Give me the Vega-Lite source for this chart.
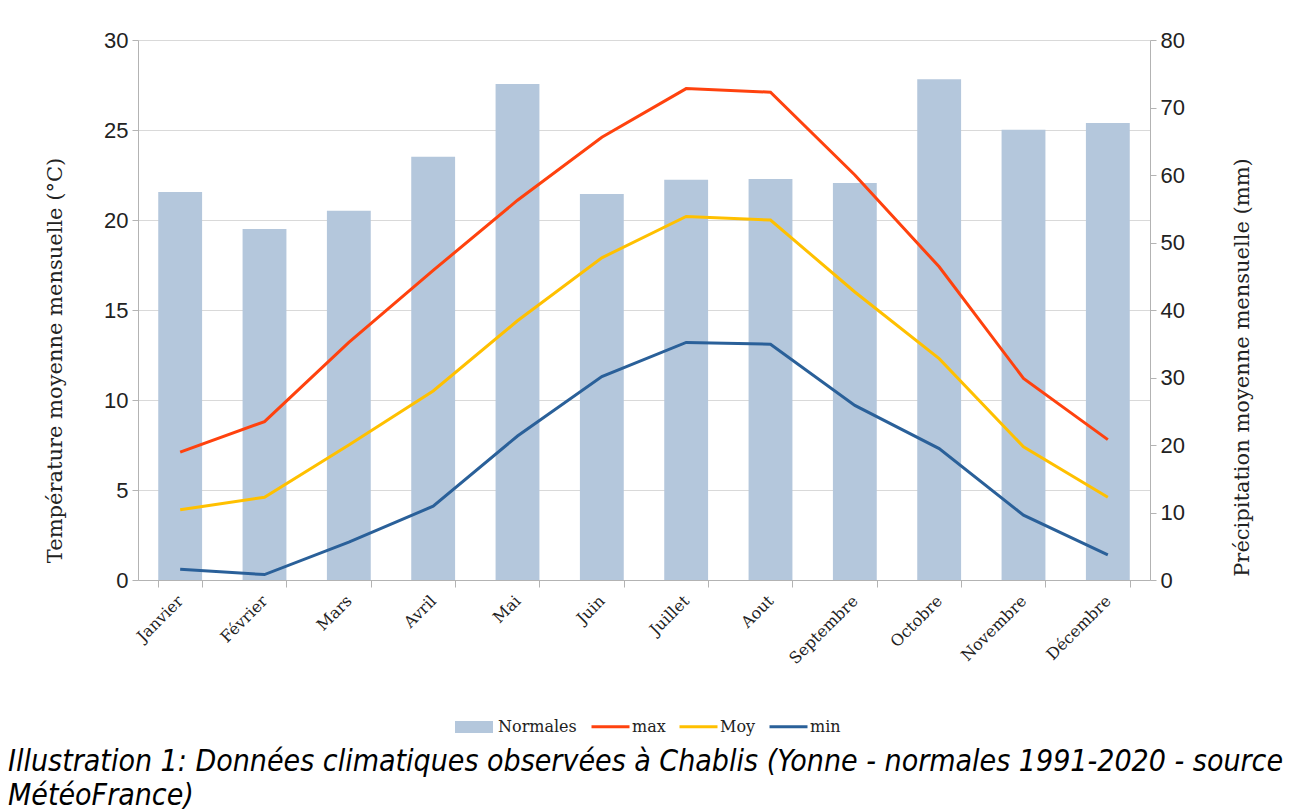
{
  "$schema": "https://vega.github.io/schema/vega-lite/v6.json",
  "width": 1012,
  "height": 540,
  "autosize": {"type": "none"},
  "padding": {"left": 138, "top": 40, "right": 140, "bottom": 232},
  "background": "white",
  "config": {
    "view": {"stroke": null},
    "axis": {
      "domainColor": "#b3b3b3",
      "tickColor": "#b3b3b3",
      "tickSize": 6,
      "labelColor": "#222222",
      "titleColor": "#222222",
      "labelFont": "Liberation Sans",
      "titleFont": "DejaVu Serif",
      "titleFontWeight": "normal",
      "gridColor": "#d9d9d9"
    },
    "legend": {
      "title": null,
      "orient": "none",
      "direction": "horizontal",
      "padding": 0,
      "symbolSize": 1444,
      "labelFont": "DejaVu Serif",
      "labelFontSize": 16,
      "labelColor": "#222222",
      "columnPadding": 7
    }
  },
  "datasets": {
    "pluie": [
      {"mois": "Janvier", "precip": 57.5},
      {"mois": "Février", "precip": 52.0},
      {"mois": "Mars", "precip": 54.7},
      {"mois": "Avril", "precip": 62.7},
      {"mois": "Mai", "precip": 73.5},
      {"mois": "Juin", "precip": 57.2},
      {"mois": "Juillet", "precip": 59.3},
      {"mois": "Aout", "precip": 59.4},
      {"mois": "Septembre", "precip": 58.8},
      {"mois": "Octobre", "precip": 74.2},
      {"mois": "Novembre", "precip": 66.7},
      {"mois": "Décembre", "precip": 67.7}
    ],
    "temp": [
      {"mois": "Janvier", "serie": "max", "t": 7.1},
      {"mois": "Février", "serie": "max", "t": 8.8},
      {"mois": "Mars", "serie": "max", "t": 13.2},
      {"mois": "Avril", "serie": "max", "t": 17.2},
      {"mois": "Mai", "serie": "max", "t": 21.1},
      {"mois": "Juin", "serie": "max", "t": 24.6},
      {"mois": "Juillet", "serie": "max", "t": 27.3},
      {"mois": "Aout", "serie": "max", "t": 27.1},
      {"mois": "Septembre", "serie": "max", "t": 22.5},
      {"mois": "Octobre", "serie": "max", "t": 17.4},
      {"mois": "Novembre", "serie": "max", "t": 11.2},
      {"mois": "Décembre", "serie": "max", "t": 7.8},
      {"mois": "Janvier", "serie": "Moy", "t": 3.9},
      {"mois": "Février", "serie": "Moy", "t": 4.6},
      {"mois": "Mars", "serie": "Moy", "t": 7.5},
      {"mois": "Avril", "serie": "Moy", "t": 10.5},
      {"mois": "Mai", "serie": "Moy", "t": 14.4},
      {"mois": "Juin", "serie": "Moy", "t": 17.9},
      {"mois": "Juillet", "serie": "Moy", "t": 20.2},
      {"mois": "Aout", "serie": "Moy", "t": 20.0},
      {"mois": "Septembre", "serie": "Moy", "t": 16.0},
      {"mois": "Octobre", "serie": "Moy", "t": 12.3},
      {"mois": "Novembre", "serie": "Moy", "t": 7.4},
      {"mois": "Décembre", "serie": "Moy", "t": 4.6},
      {"mois": "Janvier", "serie": "min", "t": 0.6},
      {"mois": "Février", "serie": "min", "t": 0.3},
      {"mois": "Mars", "serie": "min", "t": 2.1},
      {"mois": "Avril", "serie": "min", "t": 4.1},
      {"mois": "Mai", "serie": "min", "t": 8.0},
      {"mois": "Juin", "serie": "min", "t": 11.3},
      {"mois": "Juillet", "serie": "min", "t": 13.2},
      {"mois": "Aout", "serie": "min", "t": 13.1},
      {"mois": "Septembre", "serie": "min", "t": 9.7},
      {"mois": "Octobre", "serie": "min", "t": 7.3},
      {"mois": "Novembre", "serie": "min", "t": 3.6},
      {"mois": "Décembre", "serie": "min", "t": 1.4}
    ]
  },
  "title": {
    "text": ["Illustration 1: Données climatiques observées à Chablis (Yonne - normales 1991-2020 - source", "MétéoFrance)"],
    "orient": "bottom",
    "anchor": "start",
    "frame": "group",
    "dx": -130,
    "offset": 12,
    "font": "DejaVu Sans Condensed",
    "fontStyle": "italic",
    "fontWeight": "normal",
    "fontSize": 30,
    "lineHeight": 34,
    "color": "#000000",
    "baseline": "top"
  },
  "encoding": {
    "x": {
      "field": "mois",
      "type": "nominal",
      "sort": ["Janvier", "Février", "Mars", "Avril", "Mai", "Juin", "Juillet", "Aout", "Septembre", "Octobre", "Novembre", "Décembre"],
      "scale": {"paddingInner": 0.48, "paddingOuter": 0.24},
      "axis": {
        "title": null,
        "labelAngle": -45,
        "labelAlign": "right",
        "labelBaseline": "middle",
        "labelFont": "DejaVu Serif",
        "labelFontSize": 16,
        "labelPadding": 11,
        "tickBand": "extent",
        "tickSize": 7
      }
    }
  },
  "layer": [
    {
      "data": {"name": "pluie"},
      "mark": {"type": "bar"},
      "encoding": {
        "y": {
          "field": "precip",
          "type": "quantitative",
          "scale": {"domain": [0, 80]},
          "axis": {
            "orient": "right",
            "title": "Précipitation moyenne mensuelle (mm)",
            "titleAngle": -90,
            "titleBaseline": "middle",
            "titleX": 92,
            "titleY": 327,
            "titleFontSize": 21,
            "values": [0, 10, 20, 30, 40, 50, 60, 70, 80],
            "grid": false,
            "labelFontSize": 22,
            "labelPadding": 4
          }
        },
        "fill": {
          "datum": "Normales",
          "scale": {"domain": ["Normales"], "range": ["#b4c7dc"]},
          "legend": {
            "legendX": 317,
            "legendY": 668,
            "labelOffset": 5,
            "symbolType": "M-1,-0.32H1V0.32H-1Z",
            "symbolStrokeWidth": 0,
            "symbolOpacity": 1
          }
        }
      }
    },
    {
      "data": {"name": "temp"},
      "mark": {"type": "line", "strokeWidth": 3},
      "encoding": {
        "y": {
          "field": "t",
          "type": "quantitative",
          "scale": {"domain": [0, 30]},
          "axis": {
            "orient": "left",
            "title": "Température moyenne mensuelle (°C)",
            "titleAngle": -90,
            "titleBaseline": "middle",
            "titleX": -83,
            "titleY": 320,
            "titleFontSize": 21,
            "values": [0, 5, 10, 15, 20, 25, 30],
            "grid": true,
            "labelFontSize": 22,
            "labelPadding": 4
          }
        },
        "stroke": {
          "field": "serie",
          "type": "nominal",
          "scale": {"domain": ["max", "Moy", "min"], "range": ["#ff420e", "#ffc000", "#2a6099"]},
          "legend": {
            "legendX": 452,
            "legendY": 666,
            "labelOffset": 1,
            "symbolType": "stroke",
            "symbolStrokeWidth": 3
          }
        }
      }
    }
  ],
  "resolve": {"scale": {"y": "independent"}}
}
